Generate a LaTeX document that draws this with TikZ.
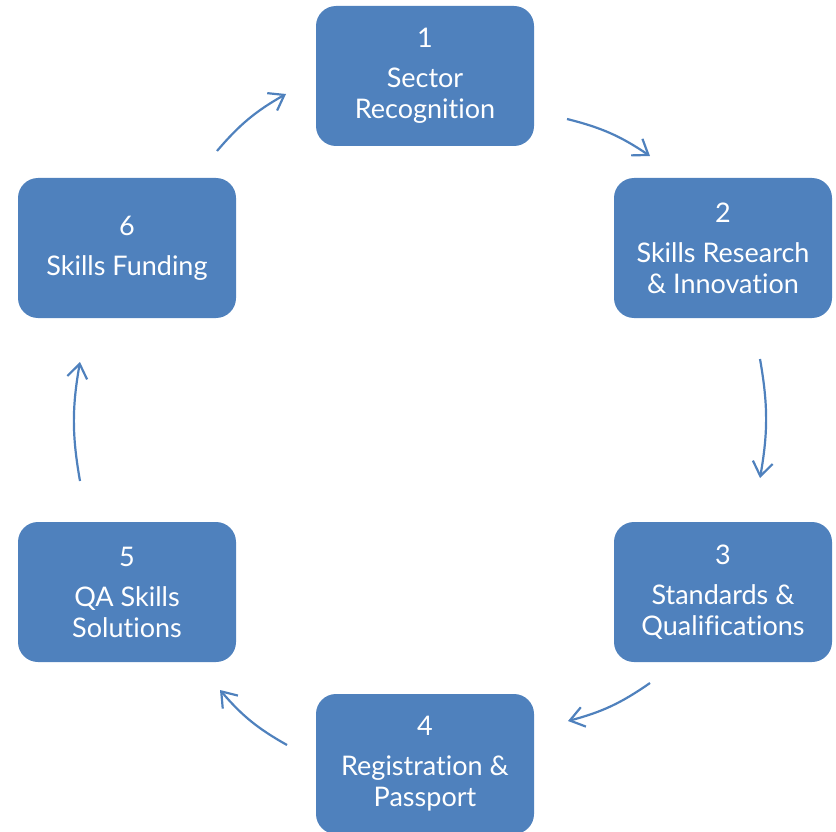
\documentclass[tikz,border=0pt]{standalone}
\usepackage{fontspec}
\setmainfont{Lato}[Ligatures=NoCommon]
\usetikzlibrary{arrows.meta}
\definecolor{boxblue}{HTML}{4F81BD}
\definecolor{arrowblue}{HTML}{4F81BD}
\begin{document}
\begin{tikzpicture}[x=1pt,y=-1pt,
  stepbox/.style={fill=boxblue, rounded corners=20pt, minimum width=218pt, minimum height=140pt, inner sep=0pt, text=white, align=center, font=\fontsize{27}{31}\selectfont},
  cyc/.style={draw=arrowblue, line width=2.2pt, -{Straight Barb[length=14pt,width=20pt]}}]
\useasboundingbox (0,0) rectangle (836,832);
\clip (0,0) rectangle (836,832);
\node[stepbox] (n1) at (425,76) {1\\[9pt]Sector\\Recognition};
\node[stepbox] (n2) at (723,248) {2\\[9pt]Skills Research\\\& Innovation};
\node[stepbox] (n3) at (723,592) {3\\[9pt]Standards \&\\Qualifications};
\node[stepbox] (n4) at (425,764) {4\\[9pt]Registration \&\\Passport};
\node[stepbox] (n5) at (127,592) {5\\[9pt]QA Skills\\Solutions};
\node[stepbox] (n6) at (127,248) {6\\[9pt]Skills Funding};
\coordinate (a1s) at (567,119); \coordinate (a1e) at (650,156);
\coordinate (a2s) at (760,359); \coordinate (a2e) at (760,478);
\coordinate (a3s) at (650,683); \coordinate (a3e) at (568,721);
\coordinate (a4s) at (287,745); \coordinate (a4e) at (220,690);
\coordinate (a5s) at (80,481);  \coordinate (a5e) at (80,362);
\coordinate (a6s) at (217,151); \coordinate (a6e) at (286,94);
\draw[cyc] (a1s) to[bend left=10] (a1e);
\draw[cyc] (a2s) to[bend left=10] (a2e);
\draw[cyc] (a3s) to[bend left=10] (a3e);
\draw[cyc] (a4s) to[bend left=10] (a4e);
\draw[cyc] (a5s) to[bend left=10] (a5e);
\draw[cyc] (a6s) to[bend left=10] (a6e);
\end{tikzpicture}
\end{document}
